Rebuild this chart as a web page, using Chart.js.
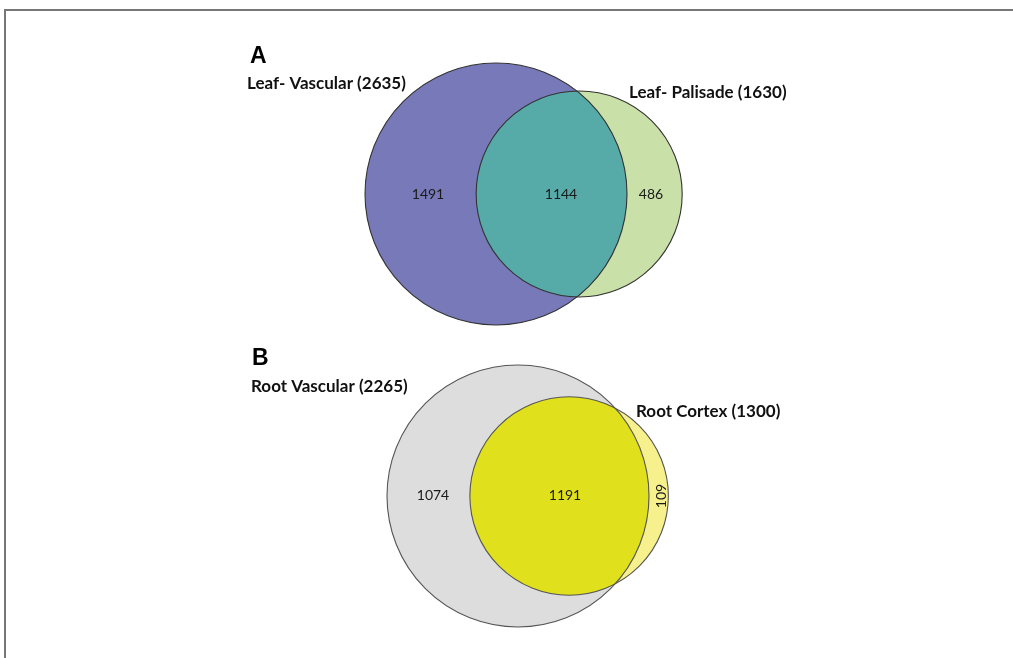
<!DOCTYPE html>
<html>
<head>
<meta charset="utf-8">
<script src="https://cdn.jsdelivr.net/npm/chart.js@4.4.0/dist/chart.umd.min.js"></script>
<style>
  html, body { margin: 0; padding: 0; background: #fff; overflow: hidden; }
  #wrap { position: relative; width: 1013px; height: 658px; overflow: hidden; }
  #frame { position: absolute; left: 4px; top: 9px; width: 1100px; height: 700px;
           border-top: 2px solid #777; border-left: 2px solid #777; }
  canvas { position: absolute; left: 0; top: 0; }
</style>
</head>
<body>
<div id="wrap">
  <div id="frame"></div>
  <canvas id="venn" width="1013" height="658"></canvas>
</div>
<script>
// Panel letters
const panelLetters = ["A", "B"];

// A: leaf sets
const leafSets = ["Leaf- Vascular", "Leaf- Palisade"];
const leafTotals = [2635, 1630];
const leafCounts = [1491, 1144, 486]; // left only, shared, right only

// B: root sets
const rootSets = ["Root Vascular", "Root Cortex"];
const rootTotals = [2265, 1300];
const rootCounts = [1074, 1191, 109];

// layout of the two panels (pixels on a 1:1 scale)
const panels = [
  {
    sets: leafSets, totals: leafTotals, counts: leafCounts,
    letterPos: [250, 63], bigCenter: [496, 194], bigRadius: 131,
    labelPos: [[247, 89], [629, 98]],
    countPos: [[428, 194], [561, 194], [651, 194]],
    fills: ["#7879b9", "#c9e1a9", "#56aba9"], stroke: "#333",
    rotateLast: false
  },
  {
    sets: rootSets, totals: rootTotals, counts: rootCounts,
    letterPos: [252, 365], bigCenter: [518, 496], bigRadius: 131,
    labelPos: [[251, 392], [636, 417]],
    countPos: [[433, 495], [565, 495], [661, 496]],
    fills: ["#dddddd", "#f6f18c", "#e0e01c"], stroke: "#555",
    rotateLast: true
  }
];

// area of the lens where two circles overlap
function lensArea(r1, r2, d) {
  if (d >= r1 + r2) return 0;
  if (d <= Math.abs(r1 - r2)) return Math.PI * Math.min(r1, r2) ** 2;
  const a = r1 * r1 * Math.acos((d * d + r1 * r1 - r2 * r2) / (2 * d * r1));
  const b = r2 * r2 * Math.acos((d * d + r2 * r2 - r1 * r1) / (2 * d * r2));
  const c = 0.5 * Math.sqrt((-d + r1 + r2) * (d + r1 - r2) * (d - r1 + r2) * (d + r1 + r2));
  return a + b - c;
}

// distance between centres so the overlap area matches the shared count
function centerGap(r1, r2, target) {
  let lo = Math.abs(r1 - r2), hi = r1 + r2;
  for (let i = 0; i < 60; i++) {
    const mid = (lo + hi) / 2;
    if (lensArea(r1, r2, mid) > target) lo = mid; else hi = mid;
  }
  return (lo + hi) / 2;
}

function circlesFor(p) {
  const r1 = p.bigRadius;
  const r2 = r1 * Math.sqrt(p.totals[1] / p.totals[0]);
  const shared = Math.PI * r1 * r1 * p.counts[1] / p.totals[0];
  const d = centerGap(r1, r2, shared);
  return [
    { x: p.bigCenter[0], y: p.bigCenter[1], r: r1 },
    { x: p.bigCenter[0] + d, y: p.bigCenter[1], r: r2 }
  ];
}

const datasets = [];
panels.forEach(p => {
  const c = circlesFor(p);
  datasets.push({ data: [c[0]], backgroundColor: p.fills[0], borderWidth: 0 });
  datasets.push({ data: [c[1]], backgroundColor: p.fills[1], borderWidth: 0 });
});

// overlap fill, outlines and all the texts
const vennOverlay = {
  id: "vennOverlay",
  afterDatasetsDraw(chart) {
    const ctx = chart.ctx;
    panels.forEach((p, i) => {
      const a = chart.getDatasetMeta(2 * i).data[0];
      const b = chart.getDatasetMeta(2 * i + 1).data[0];
      const ra = a.options.radius, rb = b.options.radius;

      ctx.save();
      ctx.beginPath();
      ctx.arc(a.x, a.y, ra, 0, Math.PI * 2);
      ctx.clip();
      ctx.beginPath();
      ctx.arc(b.x, b.y, rb, 0, Math.PI * 2);
      ctx.fillStyle = p.fills[2];
      ctx.fill();
      ctx.restore();

      ctx.save();
      ctx.strokeStyle = p.stroke;
      ctx.lineWidth = 1.1;
      [[a, ra], [b, rb]].forEach(([el, r]) => {
        ctx.beginPath();
        ctx.arc(el.x, el.y, r, 0, Math.PI * 2);
        ctx.stroke();
      });
      ctx.restore();

      ctx.save();
      ctx.fillStyle = "#000";
      ctx.textBaseline = "alphabetic";
      ctx.textAlign = "left";
      ctx.font = "bold 23px 'Liberation Sans', Arial, sans-serif";
      ctx.fillText(panelLetters[i], p.letterPos[0], p.letterPos[1]);

      ctx.font = "bold 17px Lato, 'Open Sans', sans-serif";
      ctx.fillStyle = "#111";
      p.sets.forEach((s, k) => {
        ctx.fillText(s + " (" + p.totals[k] + ")", p.labelPos[k][0], p.labelPos[k][1]);
      });

      ctx.font = "14px Lato, 'Open Sans', sans-serif";
      ctx.fillStyle = "#1a1a1a";
      ctx.textAlign = "center";
      ctx.textBaseline = "middle";
      p.counts.forEach((n, k) => {
        const [x, y] = p.countPos[k];
        if (p.rotateLast && k === p.counts.length - 1) {
          // thin crescent: the label runs bottom to top
          ctx.save();
          ctx.translate(x, y);
          ctx.rotate(-Math.PI / 2);
          ctx.fillText(String(n), 0, 0);
          ctx.restore();
        } else {
          ctx.fillText(String(n), x, y);
        }
      });
      ctx.restore();
    });
  }
};

new Chart(document.getElementById("venn"), {
  type: "bubble",
  data: { datasets: datasets },
  options: {
    responsive: false,
    animation: false,
    events: [],
    layout: { padding: 0, autoPadding: false },
    scales: {
      x: { type: "linear", min: 0, max: 1013, display: false },
      y: { type: "linear", min: 0, max: 658, reverse: true, display: false }
    },
    plugins: { legend: { display: false }, tooltip: { enabled: false } }
  },
  plugins: [vennOverlay]
});
</script>
</body>
</html>
